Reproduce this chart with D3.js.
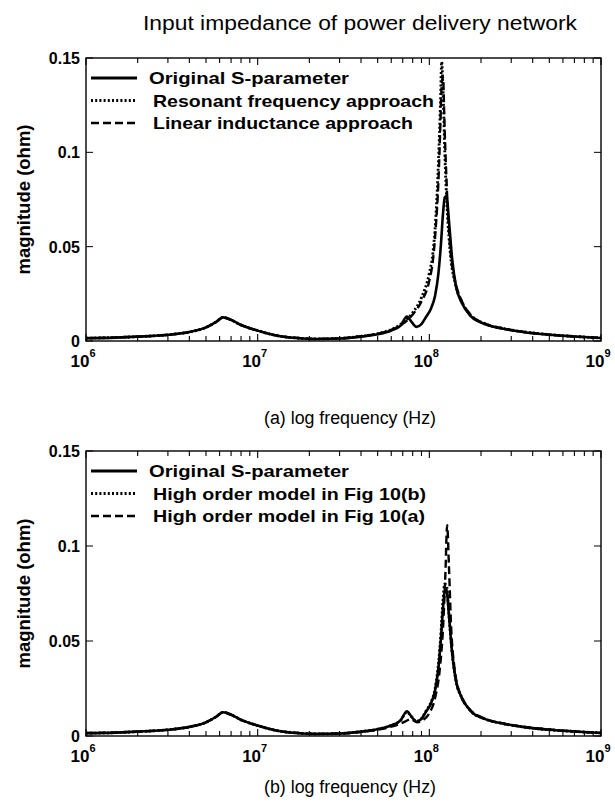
<!DOCTYPE html>
<html>
<head>
<meta charset="utf-8">
<script src="https://cdn.jsdelivr.net/npm/d3@7"></script>
<style>
  body { margin: 0; background: #fff; }
  text { font-family: "Liberation Sans", Arial, sans-serif; fill: #000; }
</style>
</head>
<body>
<div id="chart"></div>
<script>
// frequencies (Hz) and magnitudes (ohm)
var origFreq = [1e6, 1.5e6, 2e6, 3e6, 4e6, 5e6, 5.7e6, 6.3e6, 7e6, 8e6, 1e7, 1.3e7, 1.7e7, 2.2e7, 3e7, 4e7, 5e7, 6e7, 6.8e7, 7.4e7, 7.9e7, 8.4e7, 9e7, 9.6e7, 1.02e8, 1.08e8, 1.13e8, 1.17e8, 1.2e8, 1.23e8, 1.26e8, 1.3e8, 1.36e8, 1.43e8, 1.55e8, 1.75e8, 2.1e8, 2.7e8, 3.5e8, 5e8, 7e8, 1e9];
var origMag  = [0.0015, 0.0018, 0.0023, 0.0033, 0.0048, 0.0072, 0.0100, 0.0125, 0.0112, 0.0085, 0.0055, 0.0028, 0.0016, 0.0011, 0.0013, 0.0023, 0.0036, 0.0056, 0.0082, 0.0130, 0.0100, 0.0075, 0.0090, 0.0130, 0.0170, 0.0240, 0.0360, 0.0520, 0.0670, 0.0760, 0.0770, 0.0640, 0.0430, 0.0290, 0.0200, 0.0130, 0.0090, 0.0065, 0.0048, 0.0033, 0.0024, 0.0016];

var modelFreq = [1e6, 2e6, 3e6, 4e6, 5e6, 5.7e6, 6.3e6, 7e6, 8e6, 1e7, 1.3e7, 1.7e7, 2.2e7, 3e7, 4e7, 5e7, 6e7, 7e7, 8e7, 9e7, 1e8, 1.05e8, 1.09e8, 1.13e8, 1.16e8, 1.18e8, 1.2e8, 1.23e8, 1.27e8, 1.33e8, 1.42e8, 1.55e8, 1.75e8, 2.1e8, 2.7e8, 3.5e8, 5e8, 7e8, 1e9];
var resonantMag = [0.0015, 0.0023, 0.0033, 0.0048, 0.0072, 0.0100, 0.0125, 0.0112, 0.0085, 0.0055, 0.0028, 0.0016, 0.0011, 0.0014, 0.0025, 0.0039, 0.0061, 0.0096, 0.0150, 0.0230, 0.0360, 0.0470, 0.0650, 0.0950, 0.1250, 0.1480, 0.1350, 0.1000, 0.0700, 0.0450, 0.0300, 0.0205, 0.0135, 0.0092, 0.0066, 0.0049, 0.0034, 0.0024, 0.0016];
var linearMag   = [0.0015, 0.0023, 0.0033, 0.0048, 0.0072, 0.0100, 0.0125, 0.0112, 0.0085, 0.0055, 0.0028, 0.0016, 0.0011, 0.0014, 0.0025, 0.0039, 0.0059, 0.0091, 0.0140, 0.0210, 0.0320, 0.0430, 0.0600, 0.0850, 0.1150, 0.1360, 0.1400, 0.1100, 0.0770, 0.0470, 0.0310, 0.0210, 0.0137, 0.0093, 0.0066, 0.0049, 0.0034, 0.0024, 0.0016];

var fig10bMag = [0.0015, 0.0018, 0.0023, 0.0033, 0.0048, 0.0072, 0.0100, 0.0125, 0.0112, 0.0085, 0.0055, 0.0028, 0.0016, 0.0011, 0.0013, 0.0023, 0.0036, 0.0056, 0.0082, 0.0125, 0.0100, 0.0078, 0.0092, 0.0135, 0.0175, 0.0250, 0.0380, 0.0550, 0.0710, 0.0800, 0.0790, 0.0640, 0.0430, 0.0290, 0.0200, 0.0130, 0.0090, 0.0065, 0.0048, 0.0033, 0.0024, 0.0016];
var fig10aFreq = [1e6, 2e6, 3e6, 4e6, 5e6, 5.7e6, 6.3e6, 7e6, 8e6, 1e7, 1.3e7, 1.7e7, 2.2e7, 3e7, 4e7, 5e7, 6e7, 7e7, 7.8e7, 8.5e7, 9.1e7, 1e8, 1.08e8, 1.15e8, 1.2e8, 1.24e8, 1.27e8, 1.3e8, 1.34e8, 1.4e8, 1.5e8, 1.7e8, 2.1e8, 2.7e8, 3.5e8, 5e8, 7e8, 1e9];
var fig10aMag  = [0.0015, 0.0023, 0.0033, 0.0048, 0.0072, 0.0100, 0.0125, 0.0112, 0.0085, 0.0055, 0.0028, 0.0016, 0.0011, 0.0013, 0.0021, 0.0033, 0.0049, 0.0070, 0.0088, 0.0072, 0.0082, 0.0120, 0.0200, 0.0350, 0.0560, 0.0850, 0.1110, 0.0900, 0.0570, 0.0360, 0.0230, 0.0145, 0.0092, 0.0066, 0.0049, 0.0034, 0.0024, 0.0016];

var yTicks = [0, 0.05, 0.1, 0.15];
var yTickLabels = ["0", "0.05", "0.1", "0.15"];
var xDecades = [6, 7, 8, 9];

var legendTop = ["Original  S-parameter", "Resonant frequency approach", "Linear inductance approach"];
var legendTopWidths = [200, 281, 260];
var legendBottom = ["Original  S-parameter", "High order model in Fig 10(b)", "High order model in Fig 10(a)"];
var legendBottomWidths = [200, 273, 272];

var width = 615, height = 803;
var svg = d3.select("#chart").append("svg")
    .attr("width", width)
    .attr("height", height);

svg.append("text")
    .attr("x", 360).attr("y", 30)
    .attr("text-anchor", "middle")
    .attr("textLength", 434).attr("lengthAdjust", "spacingAndGlyphs")
    .style("font-size", "20px")
    .text("Input impedance of power delivery network");

var styles = [
  {dash: null, w: 2.6},
  {dash: "2,2.2", w: 2.8},
  {dash: "8,4", w: 2.4}
];

function panel(top, bottom, series, labels, widths, xtitle, xtitleY) {
  var left = 86, right = 601;
  var x = d3.scaleLog().domain([1e6, 1e9]).range([left, right]);
  var y = d3.scaleLinear().domain([0, 0.15]).range([bottom, top]);
  var g = svg.append("g");

  // minor + major ticks on bottom and top
  var ticks = [];
  xDecades.forEach(function(d) {
    for (var m = 1; m < 10; m++) {
      var f = m * Math.pow(10, d);
      if (f <= 1e9) ticks.push({f: f, major: m == 1});
    }
  });
  ticks.forEach(function(t) {
    var len = t.major ? 7 : 5;
    g.append("line").attr("x1", x(t.f)).attr("x2", x(t.f))
      .attr("y1", bottom).attr("y2", bottom - len)
      .attr("stroke", "#000").attr("stroke-width", 1.1);
    g.append("line").attr("x1", x(t.f)).attr("x2", x(t.f))
      .attr("y1", top).attr("y2", top + len)
      .attr("stroke", "#000").attr("stroke-width", 1.1);
  });
  yTicks.forEach(function(v) {
    g.append("line").attr("x1", left).attr("x2", left + 7)
      .attr("y1", y(v)).attr("y2", y(v)).attr("stroke", "#000");
    g.append("line").attr("x1", right).attr("x2", right - 7)
      .attr("y1", y(v)).attr("y2", y(v)).attr("stroke", "#000");
  });

  // y tick labels
  g.selectAll(".yl").data(yTicks).enter().append("text")
    .attr("x", left - 6).attr("y", function(d) { return y(d) + 6; })
    .attr("text-anchor", "end")
    .style("font-size", "16px").style("font-weight", "bold")
    .text(function(d, i) { return yTickLabels[i]; });

  // x tick labels 10^n
  xDecades.forEach(function(d) {
    var t = g.append("text")
      .attr("x", x(Math.pow(10, d)) - 3).attr("y", bottom + 26)
      .attr("text-anchor", "middle")
      .style("font-size", "17px").style("font-weight", "bold");
    t.append("tspan").text("10");
    t.append("tspan").attr("dy", -10).style("font-size", "11px").text(d);
  });

  // y axis title
  g.append("text")
    .attr("transform", "translate(30," + ((top + bottom) / 2) + ") rotate(-90)")
    .attr("text-anchor", "middle")
    .attr("textLength", 150).attr("lengthAdjust", "spacingAndGlyphs")
    .style("font-size", "19px").style("font-weight", "bold")
    .text("magnitude (ohm)");

  g.append("text")
    .attr("x", 350).attr("y", xtitleY)
    .attr("text-anchor", "middle")
    .attr("textLength", 172).attr("lengthAdjust", "spacingAndGlyphs")
    .style("font-size", "18px")
    .text(xtitle);

  var line = d3.line()
    .x(function(d) { return x(d[0]); })
    .y(function(d) { return y(d[1]); })
    .curve(d3.curveMonotoneX);

  series.forEach(function(s, i) {
    var pts = s.f.map(function(f, j) { return [f, s.m[j]]; });
    g.append("path")
      .attr("d", line(pts))
      .attr("fill", "none")
      .attr("stroke", "#000")
      .attr("stroke-width", styles[i].w)
      .attr("stroke-dasharray", styles[i].dash);
  });

  // frame
  g.append("rect")
    .attr("x", left).attr("y", top)
    .attr("width", right - left).attr("height", bottom - top)
    .attr("fill", "none").attr("stroke", "#000").attr("stroke-width", 1.4);

  // legend
  labels.forEach(function(l, i) {
    var ly = top + 20 + i * 22.5;
    var tx = 149 + (i ? 4 : 0);
    g.append("line").attr("x1", 91).attr("x2", 137)
      .attr("y1", ly).attr("y2", ly)
      .attr("stroke", "#000")
      .attr("stroke-width", styles[i].w + 0.3)
      .attr("stroke-dasharray", styles[i].dash);
    g.append("text").attr("x", tx).attr("y", ly + 6)
      .attr("textLength", widths[i]).attr("lengthAdjust", "spacingAndGlyphs")
      .style("font-size", "17px").style("font-weight", "bold")
      .text(l);
  });
}

panel(58, 341,
  [{f: origFreq, m: origMag}, {f: modelFreq, m: resonantMag}, {f: modelFreq, m: linearMag}],
  legendTop, legendTopWidths, "(a) log frequency (Hz)", 424);

panel(451, 736,
  [{f: origFreq, m: origMag}, {f: origFreq, m: fig10bMag}, {f: fig10aFreq, m: fig10aMag}],
  legendBottom, legendBottomWidths, "(b) log frequency (Hz)", 793);
</script>
</body>
</html>
